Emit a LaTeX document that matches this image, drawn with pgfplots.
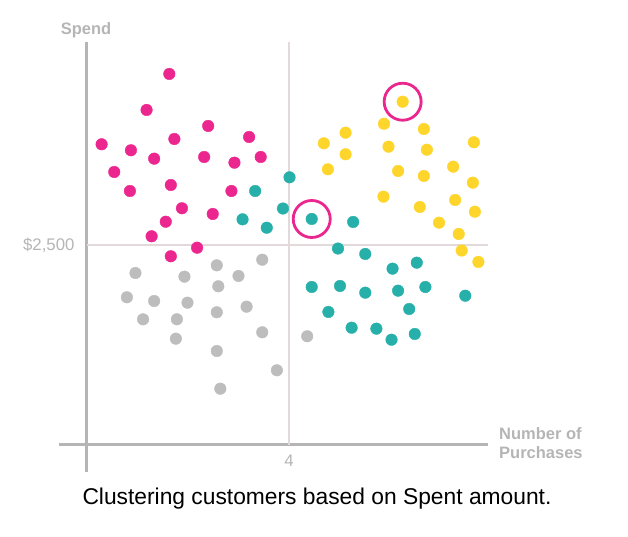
\documentclass[border=0pt]{standalone}
\usepackage{pgfplots}
\pgfplotsset{compat=1.18}
\usepackage{fontspec}
\setmainfont{Liberation Sans}
\definecolor{cpink}{HTML}{EC268F}
\definecolor{cteal}{HTML}{27B0AA}
\definecolor{cyellow}{HTML}{FDD52B}
\definecolor{cgrey}{HTML}{BDBDBD}
\definecolor{caxis}{HTML}{B5B5B5}
\definecolor{cgrid}{HTML}{E2DADA}
\definecolor{clabel}{HTML}{B5B5B5}
\begin{document}
\begin{tikzpicture}
\path[use as bounding box] (0,0) rectangle (628bp,537bp);
\begin{axis}[
  scale only axis,
  width=429bp, height=430bp,
  at={(59bp,65bp)}, anchor=south west,
  xmin=-0.554, xmax=7.94,
  ymin=-337.5, ymax=5037.5,
  axis lines=middle,
  axis line style={-, draw=caxis, line width=3bp},
  xtick={4}, xticklabel={4},
  ytick={2500}, yticklabel={\$2{,}500},
  major tick length=0pt,
  tick label style={text=clabel, font=\fontsize{16.8bp}{19bp}\selectfont},
  xticklabel style={anchor=north, yshift=-6.5bp},
  yticklabel style={anchor=east, xshift=-9bp},
  clip=false,
]
\addplot[cgrid, line width=1.5bp] coordinates {(4,0) (4,5037.5)};
\addplot[cgrid, line width=1.5bp] coordinates {(0,2500) (7.94,2500)};
% pink
\addplot[only marks, mark=*, mark size=5.8bp, color=cpink] coordinates {
(1.63,4638) (1.18,4188) (2.40,3988) (0.29,3759) (0.87,3684) (1.73,3825) (3.21,3850)
(1.33,3579) (2.32,3600) (2.92,3529) (3.44,3600) (0.54,3413) (0.85,3175) (1.66,3250)
(2.86,3175) (1.88,2959) (2.49,2888) (1.56,2791) (1.28,2609) (2.18,2466) (1.66,2359)};
% teal
\addplot[only marks, mark=*, mark size=5.8bp, color=cteal] coordinates {
(4.01,3346) (3.33,3175) (3.88,2956) (3.08,2821) (3.56,2716) (4.45,2825) (5.27,2788)
(4.97,2456) (5.51,2388) (6.05,2204) (6.53,2279) (4.45,1975) (5.01,1988) (5.51,1904)
(6.16,1929) (6.70,1975) (7.49,1866) (4.78,1663) (6.38,1700) (5.24,1466) (5.73,1454)
(6.03,1316) (6.49,1388)};
% yellow
\addplot[only marks, mark=*, mark size=5.8bp, color=cyellow] coordinates {
(6.25,4291) (5.88,4016) (6.67,3950) (5.12,3904) (4.69,3771) (5.97,3729) (6.73,3691)
(7.66,3784) (5.12,3634) (4.77,3446) (6.16,3425) (6.67,3363) (7.25,3479) (7.64,3279)
(5.87,3104) (6.59,2975) (7.29,3063) (7.68,2916) (6.97,2779) (7.36,2638) (7.42,2431)
(7.75,2288)};
% grey
\addplot[only marks, mark=*, mark size=5.8bp, color=cgrey] coordinates {
(0.96,2150) (1.93,2104) (2.57,2246) (3.00,2113) (3.47,2316) (2.60,1984) (0.79,1846)
(1.33,1800) (1.99,1779) (3.16,1729) (2.57,1659) (1.11,1571) (1.78,1571) (1.76,1329)
(3.47,1409) (2.57,1175) (3.76,934) (2.64,704) (4.36,1359)};
% highlight circles
\addplot[only marks, mark=o, mark size=18.5bp, color=cpink, mark options={line width=2.8bp}] coordinates {(6.25,4291) (4.45,2825)};
\end{axis}
\node[anchor=base, text=clabel, font=\bfseries\fontsize{16.5bp}{19bp}\selectfont] at (86bp,502bp) {Spend};
\node[anchor=base west, inner sep=0pt, text=clabel, font=\bfseries\fontsize{16.5bp}{19bp}\selectfont] at (499bp,97.5bp) {Number of};
\node[anchor=base west, inner sep=0pt, text=clabel, font=\bfseries\fontsize{16.5bp}{19bp}\selectfont] at (499bp,78bp) {Purchases};
\node[anchor=base, inner sep=0pt, text=black, font=\fontsize{22.8bp}{26bp}\selectfont] at (317bp,33bp) {Clustering customers based on Spent amount.};
\end{tikzpicture}
\end{document}
